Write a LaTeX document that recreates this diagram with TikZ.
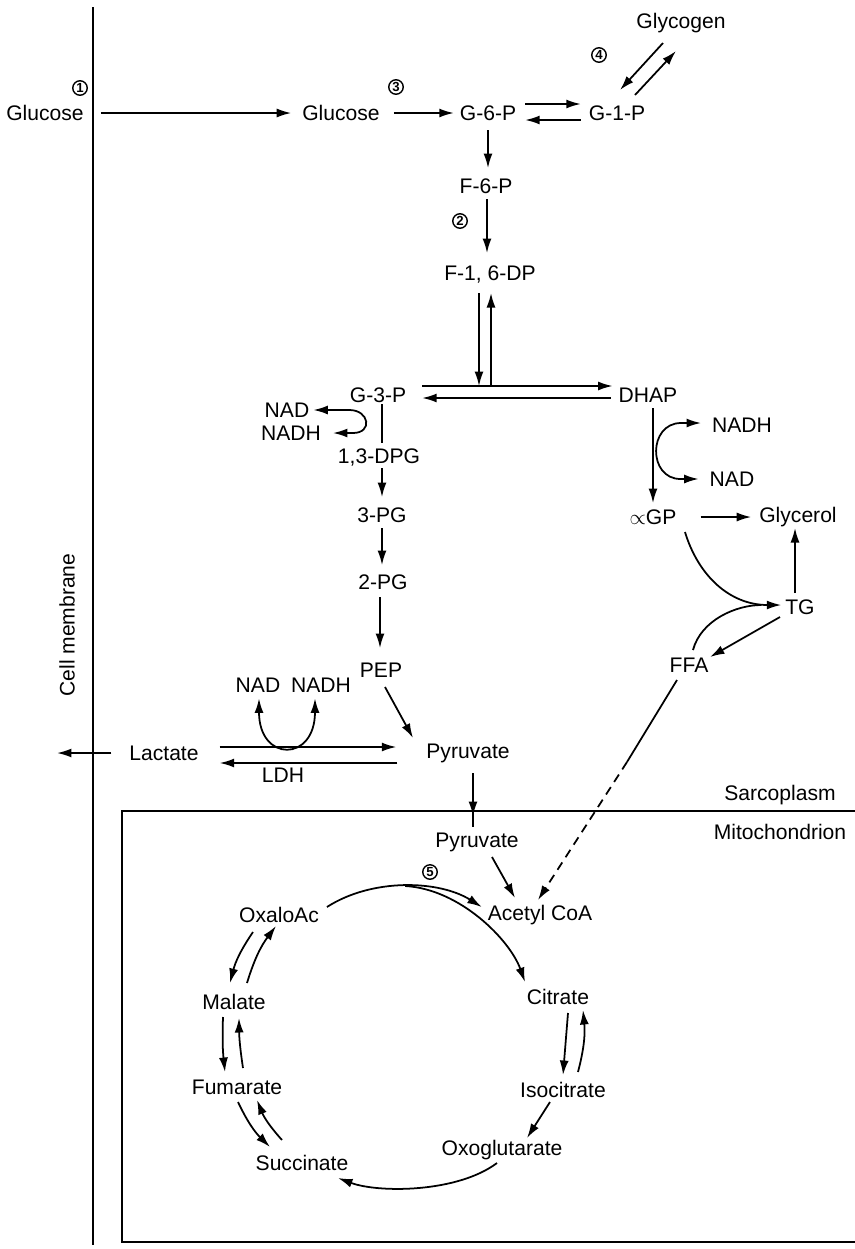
\documentclass[tikz,border=0pt]{standalone}
\usepackage{fontspec}
\setmainfont{Liberation Sans}
\usetikzlibrary{arrows.meta,calc}

\begin{document}
\begin{tikzpicture}[
    x=0.02cm, y=-0.02cm,
    met/.style={font=\fontsize{12}{14}\selectfont, inner sep=1pt},
    num/.style={circle, draw, line width=0.8pt, inner sep=0pt,
                minimum size=0.29cm, font=\fontsize{7.5}{7.5}\selectfont\bfseries},
    line/.style={line width=1pt},
    arr/.style={-{Latex[length=2.9mm,width=1.8mm]}, line width=1pt},
    both/.style={{Latex[length=2.9mm,width=1.8mm]}-{Latex[length=2.9mm,width=1.8mm]},
                 line width=1pt},
    wall/.style={line width=1.2pt}
]
\useasboundingbox (0,0) rectangle (855,1249);

% membranes
\draw[wall] (93,7) -- (93,1245);
\draw[wall] (855,811) -- (122,811) -- (122,1242) -- (855,1242);
\node[met, rotate=90] (cellmem) at (67,625) {Cell membrane};
\node[met] (sarco) at (780,795) {Sarcoplasm};
\node[met] (mito) at (780,832) {Mitochondrion};

% sarcoplasm
\node[met] (gluout) at (45,113) {Glucose};
\node[num] (n1) at (80,88) {1};
\node[met] (gluin) at (341,113) {Glucose};
\node[num] (n3) at (396,87) {3};
\node[met] (g6p) at (488,113) {G-6-P};
\node[met] (g1p) at (617,113) {G-1-P};
\node[met] (glycogen) at (681,23) {Glycogen};
\node[num] (n4) at (599,55) {4};
\node[met] (f6p) at (486,186) {F-6-P};
\node[num] (n2) at (460,221) {2};
\node[met] (f16dp) at (490,274) {F-1, 6-DP};
\node[met] (g3p) at (378,395) {G-3-P};
\node[met] (dhap) at (648,395) {DHAP};
\node[met] (nad1) at (287,410) {NAD};
\node[met] (nadh1) at (291,433) {NADH};
\node[met] (dpg) at (379,457) {1,3-DPG};
\node[met] (pg3) at (382,515) {3-PG};
\node[met] (pg2) at (383,582) {2-PG};
\node[met] (pep) at (381,670) {PEP};
\node[met] (nad2) at (258,685) {NAD};
\node[met] (nadh2) at (321,685) {NADH};
\node[met] (lactate) at (164,753) {Lactate};
\node[met] (ldh) at (283,775) {LDH};
\node[met] (pyr) at (468,753) {Pyruvate};
\coordinate (outside) at (57,753);

\node[met] (nadh3) at (742,425) {NADH};
\node[met] (nad3) at (732,479) {NAD};
\node[met] (agp) at (653,517) {$\propto$GP};
\node[met] (glycerol) at (798,517) {Glycerol};
\node[met] (tg) at (800,607) {TG};
\node[met] (ffa) at (689,665) {FFA};
\coordinate (ffabreak) at (627,762);

% mitochondrion
\node[met] (pyrm) at (477,842) {Pyruvate};
\node[num] (n5) at (430,872) {5};
\node[met] (acoa) at (540,915) {Acetyl CoA};
\node[met] (oaa) at (279,915) {OxaloAc};
\node[met] (citrate) at (558,997) {Citrate};
\node[met] (isocit) at (563,1090) {Isocitrate};
\node[met] (oxoglu) at (502,1150) {Oxoglutarate};
\node[met] (succ) at (302,1163) {Succinate};
\node[met] (fum) at (237,1087) {Fumarate};
\node[met] (mal) at (234,1002) {Malate};

% glycolysis
\draw[arr] ($(gluout.east)+(15,0)$) -- ($(gluin.west)+(-9,0)$);
\draw[arr] ($(gluin.east)+(12,0)$) -- ($(g6p.west)+(-4,0)$);
\draw[arr] ($(g6p.east)+(7,-9)$) -- ($(g1p.west)+(-6,-9)$);
\draw[arr] ($(g1p.west)+(-6,7)$) -- ($(g6p.east)+(7,7)$);
\draw[arr] ($(glycogen)+(-18,20)$) -- ($(g1p)+(3,-23)$);
\draw[arr] ($(g1p)+(18,-18)$) -- ($(glycogen)+(-5,28)$);
\draw[arr] ($(g6p)+(0,17)$) -- ($(g6p |- f6p)+(0,-18)$);
\draw[arr] ($(f6p)+(1,13)$) -- ($(f6p |- f16dp)+(1,-21)$);
\draw[arr] ($(f16dp)+(-11,19)$) -- ($(f16dp |- g3p)+(-11,-9)$);
\draw[arr] ($(f16dp |- g3p)+(1,-9)$) -- ($(f16dp)+(1,19)$);
\draw[arr] ($(g3p.east)+(14,-9)$) -- ($(dhap.west)+(-4,-9)$);
\draw[arr] ($(dhap.west)+(-6,3)$) -- ($(g3p.east)+(14,3)$);
\draw[both] ($(nad1.east)+(2,0)$) -- ($(nad1.east)+(38,0)$)
    .. controls +(20,0) and +(20,0) .. ($(nadh1.east)+(30,0)$)
    -- ($(nadh1.east)+(10,0)$);
\draw[line] ($(g3p)+(4,9)$) -- ($(g3p |- dpg)+(4,-14)$);
\draw[arr] ($(pg3 |- dpg)+(0,11)$) -- ($(pg3)+(0,-18)$);
\draw[arr] ($(pg3)+(0,13)$) -- ($(pg3 |- pg2)+(0,-17)$);
\draw[arr] ($(pep |- pg2)+(-1,15)$) -- ($(pep)+(-1,-22)$);
\draw[arr] ($(pep)+(4,17)$) -- ($(pyr)+(-55,-15)$);
\draw[arr] ($(lactate.east)+(19,-6)$) -- ($(pyr.west)+(-28,-6)$);
\draw[arr] ($(pyr.west)+(-27,10)$) -- ($(lactate.east)+(19,10)$);
\draw[both] ($(nad2.south)+(1,4)$) .. controls +(0,64) and +(0,64) .. ($(nadh2.south)+(-6,4)$);
\draw[arr] ($(lactate.west)+(-16,0)$) -- (outside);

% glycerol phosphate and fat
\draw[arr] ($(agp |- dhap)+(0,13)$) -- ($(agp)+(0,-14)$);
\draw[both] ($(nadh3.west)+(-9,-2)$) -- ($(nadh3.west)+(-29,-2)$)
    .. controls +(-33,0) and +(-33,0) .. ($(nad3.west)+(-27,0)$)
    -- ($(nad3.west)+(-9,0)$);
\draw[arr] ($(agp.east)+(22,0)$) -- ($(glycerol.west)+(-6,0)$);
\draw[arr] ($(tg)+(-5,-14)$) -- ($(tg |- glycerol)+(-5,11)$);
\draw[arr] ($(agp)+(32,15)$) .. controls +(13,43) and +(-52,0) .. ($(tg.west)+(-2,-2)$);
\draw[line] ($(ffa)+(4,-15)$) .. controls +(8,-30) and +(-25,0) .. ($(tg.west)+(-22,-2)$);
\draw[arr] ($(tg)+(-20,10)$) -- ($(ffa)+(21,-8)$);
\draw[line] ($(ffa)+(-12,15)$) -- (ffabreak);
\draw[arr, dash pattern=on 5pt off 3.5pt] (ffabreak) -- ($(acoa)+(-2,-15)$);

% into the mitochondrion
\draw[arr] ($(pyr)+(5,20)$) -- ($(pyr |- pyrm)+(5,-26)$);
\draw[line] ($(pyr |- pyrm)+(5,-30)$) -- ($(pyr |- pyrm)+(5,-15)$);
\draw[arr] ($(pyrm)+(15,15)$) -- ($(acoa)+(-25,-17)$);

% citric acid cycle
\draw[arr] ($(oaa.east)+(6,-8)$) .. controls +(45,-29) and +(-43,-27) .. ($(acoa.west)+(-4,-8)$)
    coordinate[pos=0.5] (fork);
\draw[arr] (fork) .. controls +(55,3) and +(-15,-42) .. ($(citrate)+(-33,-15)$);
\draw[arr] ($(citrate)+(10,16)$) -- ($(isocit)+(0,-15)$);
\draw[arr] ($(isocit)+(15,-18)$) to[bend right=10] ($(citrate)+(25,13)$);
\draw[arr] ($(isocit)+(-13,12)$) -- ($(oxoglu)+(25,-12)$);
\draw[arr] ($(oxoglu)+(-5,13)$) .. controls +(-40,30) and +(40,15) .. ($(succ)+(36,15)$);
\draw[arr] ($(succ)+(-20,-23)$) to[bend left=10] ($(fum)+(20,13)$);
\draw[arr] ($(fum)+(1,15)$) to[bend right=10] ($(succ)+(-32,-16)$);
\draw[arr] ($(fum)+(6,-19)$) to[bend left=4] ($(mal)+(5,16)$);
\draw[arr] ($(mal)+(-11,15)$) to[bend right=4] ($(fum)+(-12,-15)$);
\draw[arr] ($(mal)+(13,-19)$) to[bend left=10] ($(oaa)+(-3,11)$);
\draw[arr] ($(oaa)+(-26,17)$) to[bend right=10] ($(mal)+(-4,-19)$);

\end{tikzpicture}
\end{document}
